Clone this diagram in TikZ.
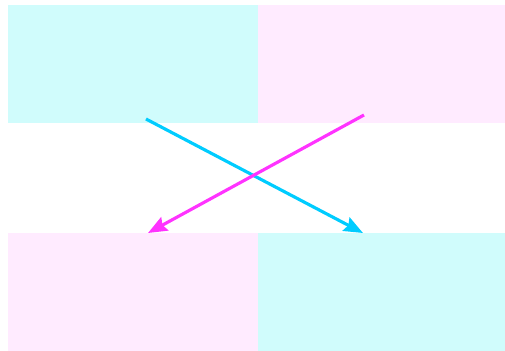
\documentclass[tikz,border=0pt]{standalone}
\usetikzlibrary{arrows.meta}
\definecolor{cyanfill}{HTML}{D0FCFC}
\definecolor{pinkfill}{HTML}{FFEBFF}
\definecolor{cyanline}{HTML}{00CCFF}
\definecolor{pinkline}{HTML}{FF33FF}
\begin{document}
\begin{tikzpicture}[
  x=0.02cm,y=-0.02cm,
  panel/.style={anchor=north west,inner sep=0pt,outer sep=0pt,minimum height=2.36cm},
  cross/.style={line width=1.8pt,-{Stealth[length=0.38cm,width=0.3cm,inset=0.05cm]}}
]
  \useasboundingbox (0,0) rectangle (505,351);
  \def\xL{8}
  \def\xM{258}

  \node[panel,fill=cyanfill,minimum width=5cm] (topleft) at (\xL,5) {};
  \node[panel,fill=pinkfill,minimum width=4.94cm] (topright) at (\xM,5) {};
  \node[panel,fill=pinkfill,minimum width=5cm] (botleft) at (\xL,233) {};
  \node[panel,fill=cyanfill,minimum width=4.94cm] (botright) at (\xM,233) {};

  \coordinate (cyanstart) at (146,119);
  \coordinate (cyanend) at (363,233);
  \coordinate (pinkstart) at (364,115);
  \coordinate (pinkend) at (148,233);

  \draw[cross,cyanline] (cyanstart) -- (cyanend);
  \draw[cross,pinkline] (pinkstart) -- (pinkend);
\end{tikzpicture}
\end{document}
